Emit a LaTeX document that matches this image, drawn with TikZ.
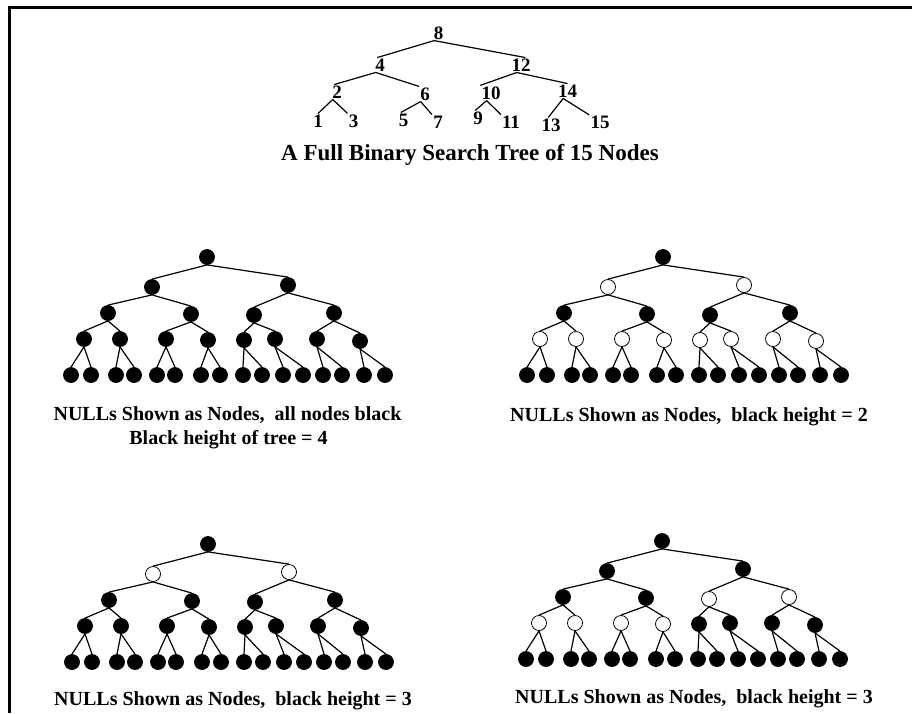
\documentclass[tikz,border=0pt]{standalone}
\usepackage{fontspec}
\setmainfont{Liberation Serif}

\begin{document}
\begin{tikzpicture}[
    x=1pt, y=-1pt,
    every node/.style={font=\bfseries\fontsize{19}{22}\selectfont},
    num/.style     = {inner sep=1pt},
    captext/.style = {anchor=base, inner sep=0pt, font=\bfseries\fontsize{20}{24}\selectfont},
    bigtext/.style = {captext, font=\bfseries\fontsize{23}{26}\selectfont},
    dot/.style     = {draw, circle, line width=.8pt, minimum size=15pt, inner sep=0pt},
    link/.style    = {line width=1.2pt},
  ]
\useasboundingbox (0,0) rectangle (912,713);

% frame
\draw[line width=3pt] (9.5,713) -- (9.5,7) -- (912,7);

% search tree with keys
\foreach \v/\x/\y in {8/438.5/33, 4/380/65, 12/521/65, 2/337/92, 6/425/94,
    10/491/93, 14/567.5/91, 1/318/121, 3/353.5/121, 5/403.5/120, 7/438/122,
    9/478/118, 11/511/122, 13/551/125, 15/600/122.5}
  \node[num] (n\v) at (\x,\y) {\v};

\foreach \a/\b/\e in {8/4/110, 8/12/60, 4/2/110, 4/6/north west,
    12/10/north west, 12/14/north, 2/1/north, 2/3/north west,
    6/5/110, 6/7/north west, 10/9/110, 10/11/north west,
    14/13/110, 14/15/north west}
  \draw[link] (n\a.-120) -- (n\b.\e);

\node[bigtext] (title) at (470,160) {A Full Binary Search Tree of 15 Nodes};

% tree with NULL leaves, heap order: node k has children 2k and 2k+1
\def\TreeShape{0/0, -55/30, 81/28,
    -99/56, -16/57, 47/58, 127/56,
    -123/82, -87/82, -41/82, 1/83, 37/83, 68/82, 110/82, 153/84,
    -136/118, -116/118, -91/118, -73/118, -50/118, -32/118, -6/118, 13/118,
    36/118, 55/118, 76/118, 96/118, 116/118, 135/118, 157/118, 178/118}

% #1 prefix, #2 root, #3 fill of the 15 inner nodes (1 black, 0 white)
\def\NullTree#1#2#3{
  \begin{scope}[shift={#2}]
    \foreach \px/\py [count=\k] in \TreeShape {
      \ifnum\k>15 \def\pc{100}\else \pgfmathtruncatemacro\pc{100*{#3}[\k-1]}\fi
      \node[dot, fill=black!\pc] (#1-\k) at (\px,\py) {};
    }
    \foreach \k in {1,...,15} {
      \pgfmathtruncatemacro\kl{2*\k}
      \pgfmathtruncatemacro\kr{2*\k+1}
      \draw[link] (#1-\k.south) -- (#1-\kl.north);
      \draw[link] (#1-\k.south) -- (#1-\kr.north);
    }
  \end{scope}
}

\NullTree{tA}{(207,257)}{1,1,1,1,1,1,1,1,1,1,1,1,1,1,1}
\NullTree{tB}{(663,257)}{1,0,0,1,1,1,1,0,0,0,0,0,0,0,0}
\NullTree{tC}{(208,544)}{1,0,0,1,1,1,1,1,1,1,1,1,1,1,1}
\NullTree{tD}{(662,541)}{1,1,1,1,1,0,0,0,0,0,0,1,1,1,1}

% captions
\node[captext] (capA) at (227.5,420.7) {NULLs Shown as Nodes,\ \ all nodes black};
\node[captext] (capA2) at (228.5,444) {Black height of tree = 4};
\node[captext] (capB) at (689,421) {NULLs Shown as Nodes,\ \ black height = 2};
\node[captext] (capC) at (233,705) {NULLs Shown as Nodes,\ \ black height = 3};
\node[captext] (capD) at (694,703) {NULLs Shown as Nodes,\ \ black height = 3};

\end{tikzpicture}
\end{document}
